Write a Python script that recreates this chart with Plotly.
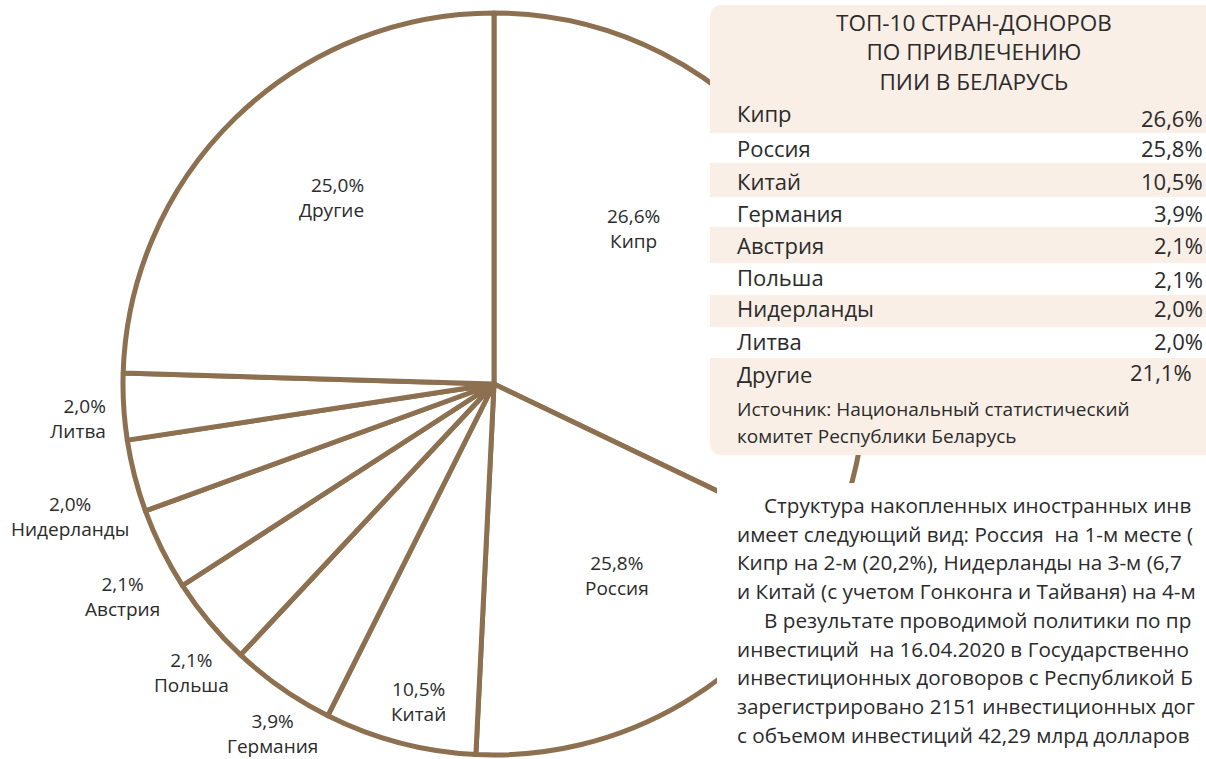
import plotly.graph_objects as go

# ---------------- data ----------------
pie_countries = ["Кипр", "Россия", "Китай", "Германия", "Польша",
                 "Австрия", "Нидерланды", "Литва", "Другие"]
pie_labels_pct = ["26,6%", "25,8%", "10,5%", "3,9%", "2,1%",
                  "2,1%", "2,0%", "2,0%", "25,0%"]
# angular size of every slice as drawn in the picture (degrees)
pie_drawn_deg = [115.6, 67.2, 23.8, 16.5, 14.0, 12.9, 11.3, 10.4, 88.3]

table_title = ["ТОП-10 СТРАН-ДОНОРОВ", "ПО ПРИВЛЕЧЕНИЮ", "ПИИ В БЕЛАРУСЬ"]
table_countries = ["Кипр", "Россия", "Китай", "Германия", "Австрия",
                   "Польша", "Нидерланды", "Литва", "Другие"]
table_values = ["26,6%", "25,8%", "10,5%", "3,9%", "2,1%",
                "2,1%", "2,0%", "2,0%", "21,1%"]
source_lines = ["Источник: Национальный статистический",
                "комитет Республики Беларусь"]

paragraph_lines = [
    "Структура накопленных иностранных инв",
    "имеет следующий вид: Россия  на 1-м месте (",
    "Кипр на 2-м (20,2%), Нидерланды на 3-м (6,7",
    "и Китай (с учетом Гонконга и Тайваня) на 4-м",
    "В результате проводимой политики по пр",
    "инвестиций  на 16.04.2020 в Государственно",
    "инвестиционных договоров с Республикой Б",
    "зарегистрировано 2151 инвестиционных дог",
    "с объемом инвестиций 42,29 млрд долларов",
]
paragraph_indent = [True, False, False, False, True, False, False, False, False]

# ---------------- layout helpers ----------------
W, H = 1206, 759
FONT = "'Open Sans', 'Noto Sans', 'DejaVu Sans', sans-serif"
TEXT = "#2b2b2b"
BROWN = "#8c7050"
BEIGE = "#f9efe6"


def px(x):
    return x / W


def py(y):
    return 1 - y / H


# pie geometry (pixels)
cx, cy, R = 494, 384, 371

fig = go.Figure()
fig.add_trace(go.Pie(
    labels=pie_countries,
    values=pie_drawn_deg,
    sort=False,
    direction="clockwise",
    rotation=0,
    marker=dict(colors=["#ffffff"] * len(pie_countries),
                line=dict(color=BROWN, width=5)),
    textinfo="none",
    hoverinfo="skip",
    showlegend=False,
    domain=dict(x=[px(cx - R), px(cx + R)], y=[py(cy + R), py(cy - R)]),
))

shapes = []
annotations = []

# white block behind paragraph text
shapes.append(dict(type="rect", xref="paper", yref="paper",
                   x0=px(717), x1=px(1220), y0=py(483), y1=py(770),
                   fillcolor="#ffffff", line=dict(width=0), layer="above"))

# beige rounded panel
x0, x1, y0, y1, r = 710, 1240, 5, 455, 13
path = (f"M {px(x0 + r)},{py(y0)} L {px(x1)},{py(y0)} L {px(x1)},{py(y1)} "
        f"L {px(x0 + r)},{py(y1)} Q {px(x0)},{py(y1)} {px(x0)},{py(y1 - r)} "
        f"L {px(x0)},{py(y0 + r)} Q {px(x0)},{py(y0)} {px(x0 + r)},{py(y0)} Z")
shapes.append(dict(type="path", xref="paper", yref="paper", path=path,
                   fillcolor=BEIGE, line=dict(width=0), layer="above"))

# white table bands
for (b0, b1) in [(133, 163), (197, 227), (263, 295), (327, 358)]:
    shapes.append(dict(type="rect", xref="paper", yref="paper",
                       x0=px(710), x1=px(1240), y0=py(b1), y1=py(b0),
                       fillcolor="#ffffff", line=dict(width=0), layer="above"))


def ann(text, x, y, size, xanchor="center", color=TEXT, align="center"):
    annotations.append(dict(text=text, x=px(x), y=py(y), xref="paper", yref="paper",
                            xanchor=xanchor, yanchor="middle", showarrow=False,
                            align=align,
                            font=dict(family=FONT, size=size, color=color)))


# pie labels: (x, y of the two-line block, anchor)
pie_label_pos = {
    "Кипр": (633, 228, "center"),
    "Россия": (617, 575, "center"),
    "Китай": (418, 701, "center"),
    "Германия": (272, 733, "center"),
    "Польша": (191, 672, "center"),
    "Австрия": (122, 596, "center"),
    "Нидерланды": (70, 516, "center"),
    "Литва": (108, 419, "right"),
    "Другие": (366, 197, "right"),
}
for name, pct in zip(pie_countries, pie_labels_pct):
    x, y, anc = pie_label_pos[name]
    ann(f"{pct}<br>{name}", x, y, 19, xanchor=anc, align=anc)

# table title (one three-line block)
ann("<br>".join(table_title), 974, 52, 22.5)

# table rows
row_name_y = [113, 148, 181, 213, 245, 277, 308, 341, 374]
row_val_y = [118, 148, 181, 213, 245, 279, 308, 341, 372]
for i, (nm, val) in enumerate(zip(table_countries, table_values)):
    ann(nm, 735, row_name_y[i], 22, xanchor="left")
    vx = 1194 if i == len(table_values) - 1 else 1205
    ann(val, vx, row_val_y[i], 22, xanchor="right")

for t, y in zip(source_lines, [409, 436]):
    ann(t, 735, y, 19, xanchor="left")

# paragraph
for i, (line, ind) in enumerate(zip(paragraph_lines, paragraph_indent)):
    ann(line, 762 if ind else 735, 505 + i * 28.7, 20.7, xanchor="left")

fig.update_layout(
    width=W, height=H,
    margin=dict(l=0, r=0, t=0, b=0),
    paper_bgcolor="#ffffff",
    plot_bgcolor="#ffffff",
    shapes=shapes,
    annotations=annotations,
)

fig.write_html(
    "out.html",
    config={"displayModeBar": False},
    post_script="document.body.style.margin='0';document.body.style.overflow='hidden';",
)
